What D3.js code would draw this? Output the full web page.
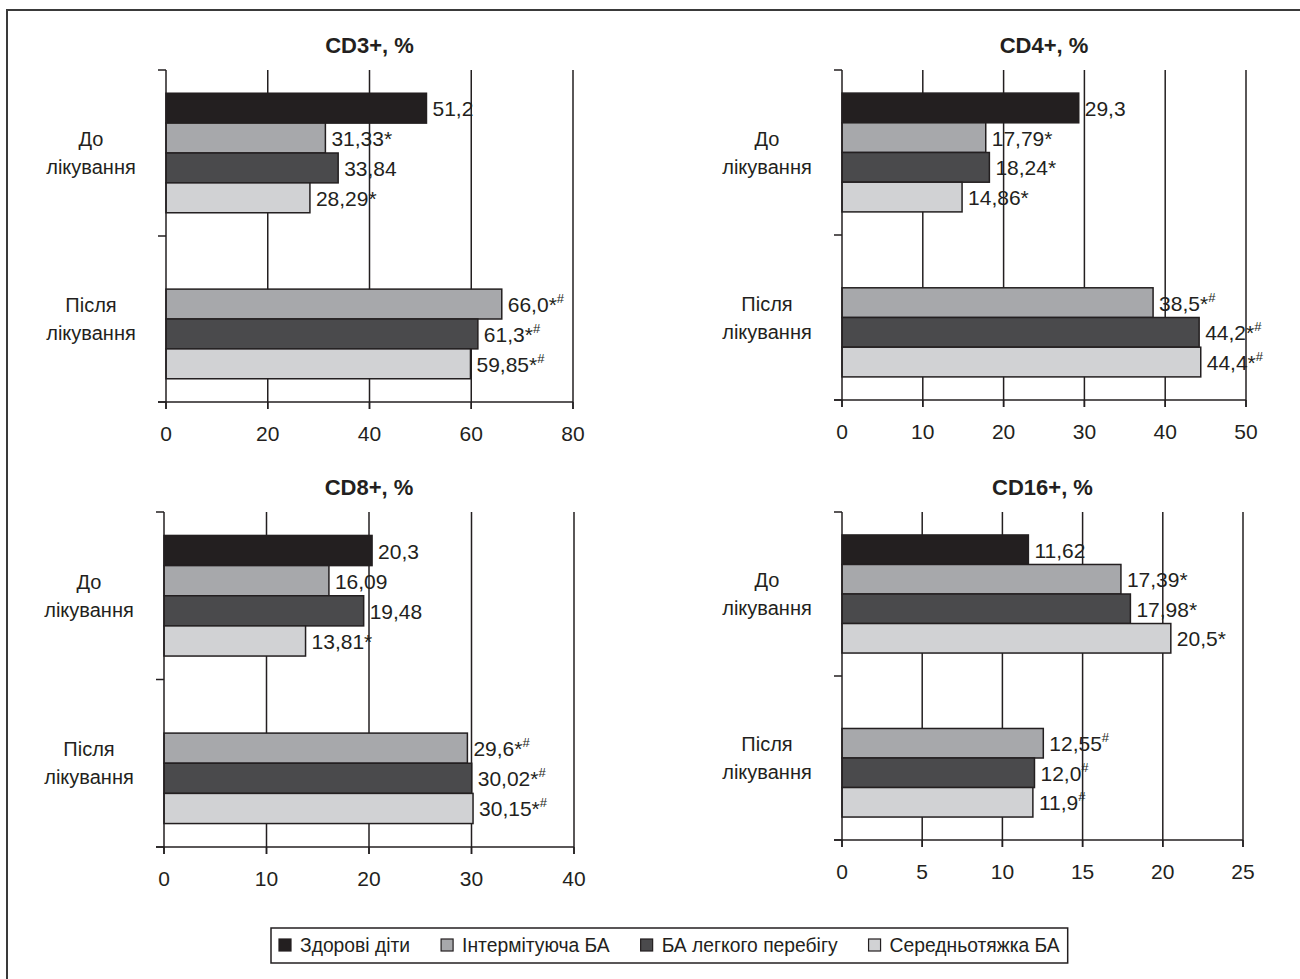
<!DOCTYPE html>
<html>
<head>
<meta charset="utf-8">
<script src="https://cdn.jsdelivr.net/npm/d3@7"></script>
<style>
  html, body { margin: 0; padding: 0; background: #fff; }
  svg { display: block; }
  text { font-family: "Liberation Sans", Arial, sans-serif; fill: #231f20; }
</style>
</head>
<body>
<svg id="chart" width="1300" height="979"></svg>
<script>
// ---------- DATA ----------
const categories = ["До лікування", "Після лікування"];
const seriesNames = ["Здорові діти", "Інтермітуюча БА", "БА легкого перебігу", "Середньотяжка БА"];

const panelTitles = ["CD3+, %", "CD4+, %", "CD8+, %", "CD16+, %"];

const cd3Before = [51.2, 31.33, 33.84, 28.29];
const cd3After  = [null, 66.0, 61.3, 59.85];
const cd3LabelsBefore = ["51,2", "31,33*", "33,84", "28,29*"];
const cd3LabelsAfter  = ["", "66,0*#", "61,3*#", "59,85*#"];
const cd3Ticks = [0, 20, 40, 60, 80];

const cd4Before = [29.3, 17.79, 18.24, 14.86];
const cd4After  = [null, 38.5, 44.2, 44.4];
const cd4LabelsBefore = ["29,3", "17,79*", "18,24*", "14,86*"];
const cd4LabelsAfter  = ["", "38,5*#", "44,2*#", "44,4*#"];
const cd4Ticks = [0, 10, 20, 30, 40, 50];

const cd8Before = [20.3, 16.09, 19.48, 13.81];
const cd8After  = [null, 29.6, 30.02, 30.15];
const cd8LabelsBefore = ["20,3", "16,09", "19,48", "13,81*"];
const cd8LabelsAfter  = ["", "29,6*#", "30,02*#", "30,15*#"];
const cd8Ticks = [0, 10, 20, 30, 40];

const cd16Before = [11.62, 17.39, 17.98, 20.5];
const cd16After  = [null, 12.55, 12.0, 11.9];
const cd16LabelsBefore = ["11,62", "17,39*", "17,98*", "20,5*"];
const cd16LabelsAfter  = ["", "12,55#", "12,0#", "11,9#"];
const cd16Ticks = [0, 5, 10, 15, 20, 25];

// ---------- STYLE / LAYOUT ----------
const seriesColors = ["#231f20", "#a7a8ab", "#4a4a4c", "#d1d2d4"];
const ink = "#231f20";

const panels = [
  { title: panelTitles[0], before: cd3Before, after: cd3After, lb: cd3LabelsBefore, la: cd3LabelsAfter, ticks: cd3Ticks,
    box: { left: 166, right: 573, top: 70, bottom: 402 } },
  { title: panelTitles[1], before: cd4Before, after: cd4After, lb: cd4LabelsBefore, la: cd4LabelsAfter, ticks: cd4Ticks,
    box: { left: 842, right: 1246, top: 70, bottom: 400 } },
  { title: panelTitles[2], before: cd8Before, after: cd8After, lb: cd8LabelsBefore, la: cd8LabelsAfter, ticks: cd8Ticks,
    box: { left: 164, right: 574, top: 512, bottom: 847 } },
  { title: panelTitles[3], before: cd16Before, after: cd16After, lb: cd16LabelsBefore, la: cd16LabelsAfter, ticks: cd16Ticks,
    box: { left: 842, right: 1243, top: 512, bottom: 840 } }
];

const svg = d3.select("#chart");

// outer frame (extends past right/bottom edge as in the reference)
svg.append("rect")
  .attr("x", 7).attr("y", 10).attr("width", 1310).attr("height", 990)
  .attr("fill", "none").attr("stroke", "#3a3a3a").attr("stroke-width", 2);

panels.forEach(p => {
  const b = p.box;
  const g = svg.append("g");
  const x = d3.scaleLinear().domain([p.ticks[0], p.ticks[p.ticks.length - 1]]).range([b.left, b.right]);
  const y = d3.scaleBand().domain(categories).range([b.top, b.bottom]).paddingInner(0.28).paddingOuter(0.14);
  const ys = d3.scaleBand().domain(seriesNames).range([0, y.bandwidth()]).padding(0);

  // title
  g.append("text")
    .attr("x", (b.left + b.right) / 2).attr("y", b.top - 25)
    .attr("text-anchor", "middle").attr("dominant-baseline", "central")
    .style("font-size", "22px").style("font-weight", "bold")
    .text(p.title);

  // gridlines
  g.selectAll(".grid").data(p.ticks.slice(1)).enter().append("line")
    .attr("x1", d => x(d)).attr("x2", d => x(d))
    .attr("y1", b.top).attr("y2", b.bottom + 7)
    .attr("stroke", ink).attr("stroke-width", 1.5);

  // bars
  const rows = [];
  categories.forEach((c, ci) => {
    const vals = ci === 0 ? p.before : p.after;
    const labs = ci === 0 ? p.lb : p.la;
    vals.forEach((v, si) => { if (v !== null) rows.push({ c, s: seriesNames[si], si, v, lab: labs[si] }); });
  });

  g.selectAll(".bar").data(rows).enter().append("rect")
    .attr("x", x(0))
    .attr("y", d => y(d.c) + ys(d.s))
    .attr("width", d => x(d.v) - x(0))
    .attr("height", ys.bandwidth())
    .attr("fill", d => seriesColors[d.si])
    .attr("stroke", ink).attr("stroke-width", 1.5);

  // value labels
  const lt = g.selectAll(".lab").data(rows).enter().append("text")
    .attr("x", d => x(d.v) + 6)
    .attr("y", d => y(d.c) + ys(d.s) + ys.bandwidth() / 2)
    .attr("dominant-baseline", "central")
    .style("font-size", "21px");
  lt.each(function (d) {
    const t = d3.select(this);
    const main = d.lab.replace("#", "");
    t.append("tspan").text(main);
    if (d.lab.indexOf("#") >= 0) {
      t.append("tspan").attr("dy", -6).style("font-size", "13px").text("#");
    }
  });

  // value axis
  g.append("line").attr("x1", b.left - 8).attr("x2", b.right).attr("y1", b.bottom).attr("y2", b.bottom)
    .attr("stroke", ink).attr("stroke-width", 1.5);
  g.selectAll(".xt").data(p.ticks).enter().append("line")
    .attr("x1", d => x(d)).attr("x2", d => x(d)).attr("y1", b.bottom).attr("y2", b.bottom + 7)
    .attr("stroke", ink).attr("stroke-width", 1.5);
  g.selectAll(".xl").data(p.ticks).enter().append("text")
    .attr("x", d => x(d)).attr("y", b.bottom + 31)
    .attr("text-anchor", "middle").attr("dominant-baseline", "central")
    .style("font-size", "21px")
    .text(d => d);

  // category axis
  g.append("line").attr("x1", b.left).attr("x2", b.left).attr("y1", b.top).attr("y2", b.bottom + 7)
    .attr("stroke", ink).attr("stroke-width", 1.5);
  const catTicks = [b.top, (b.top + b.bottom) / 2, b.bottom];
  g.selectAll(".ct").data(catTicks).enter().append("line")
    .attr("x1", b.left - 8).attr("x2", b.left).attr("y1", d => d).attr("y2", d => d)
    .attr("stroke", ink).attr("stroke-width", 1.5);

  categories.forEach(c => {
    const parts = c.split(" ");
    const cy = y(c) + y.bandwidth() / 2;
    const t = g.append("text")
      .attr("x", b.left - 75).attr("y", cy - 14)
      .attr("text-anchor", "middle").attr("dominant-baseline", "central")
      .style("font-size", "20px");
    parts.forEach((s, i) => {
      t.append("tspan").attr("x", b.left - 75).attr("y", cy - 14 + i * 28).text(s);
    });
  });
});

// legend
const lg = svg.append("g");
const lgBox = lg.append("rect").attr("x", 271).attr("y", 928).attr("height", 35)
  .attr("fill", "#fff").attr("stroke", ink).attr("stroke-width", 1.5);
let cx = 279;
seriesNames.forEach((s, i) => {
  lg.append("rect").attr("x", cx).attr("y", 939).attr("width", 12).attr("height", 12)
    .attr("fill", seriesColors[i]).attr("stroke", ink).attr("stroke-width", 1.2);
  const t = lg.append("text").attr("x", cx + 21).attr("y", 945.5)
    .attr("dominant-baseline", "central").style("font-size", "19.3px").text(s);
  const w = t.node().getComputedTextLength();
  cx = cx + 21 + w + 31;
});
lgBox.attr("width", cx - 31 + 8 - 271);
</script>
</body>
</html>
